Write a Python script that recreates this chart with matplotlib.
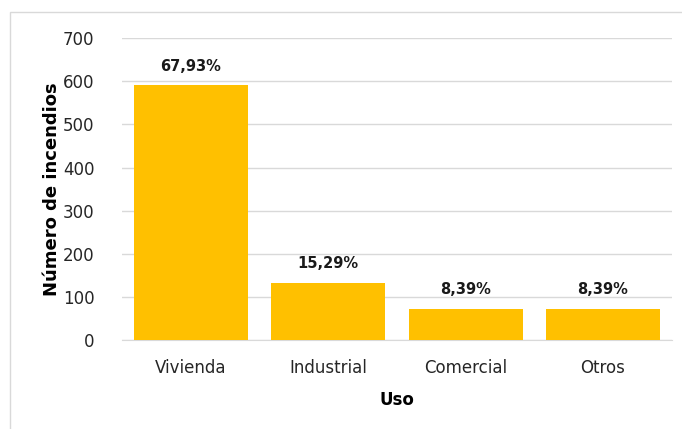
import matplotlib
matplotlib.use('Agg')
import matplotlib.pyplot as plt
from matplotlib.patches import Rectangle

usos = ["Vivienda", "Industrial", "Comercial", "Otros"]
incendios = [592, 133, 73, 73]
porcentajes = ["67,93%", "15,29%", "8,39%", "8,39%"]

plt.rcParams['font.family'] = 'DejaVu Sans'

fig = plt.figure(figsize=(6.82, 4.29), dpi=100)
ax = fig.add_axes([0.179, 0.2075, 0.806, 0.7035])

# marco gris claro del area del grafico
fig.patches.append(Rectangle((10 / 682, -0.1), 1.2, 1 - 12 / 429 + 0.1,
                             transform=fig.transFigure, fill=False,
                             edgecolor='#d9d9d9', linewidth=1))

x = range(len(usos))
bars = ax.bar(x, incendios, width=0.83, color='#ffc000', zorder=3)

for b, p in zip(bars, porcentajes):
    ax.text(b.get_x() + b.get_width() / 2, b.get_height() + 26, p,
            ha='center', va='bottom', fontsize=10.5, fontweight='bold',
            color='#1a1a1a')

ax.set_ylim(0, 700)
ax.set_xlim(-0.5, 3.5)
ax.set_yticks(range(0, 701, 100))
ax.set_xticks(list(x))
ax.set_xticklabels(usos)
ax.yaxis.grid(True, color='#d9d9d9', linewidth=1, zorder=0)
ax.tick_params(axis='both', length=0, labelsize=12, colors='#262626')
ax.tick_params(axis='x', pad=14)
ax.tick_params(axis='y', pad=20)
for s in ['top', 'right', 'left']:
    ax.spines[s].set_visible(False)
ax.spines['bottom'].set_color('#d9d9d9')

ax.set_xlabel("Uso", fontsize=12, fontweight='bold', labelpad=10)
ax.set_ylabel("Número de incendios", fontsize=13, fontweight='bold', labelpad=1)

plt.savefig("out.png", dpi=100)
